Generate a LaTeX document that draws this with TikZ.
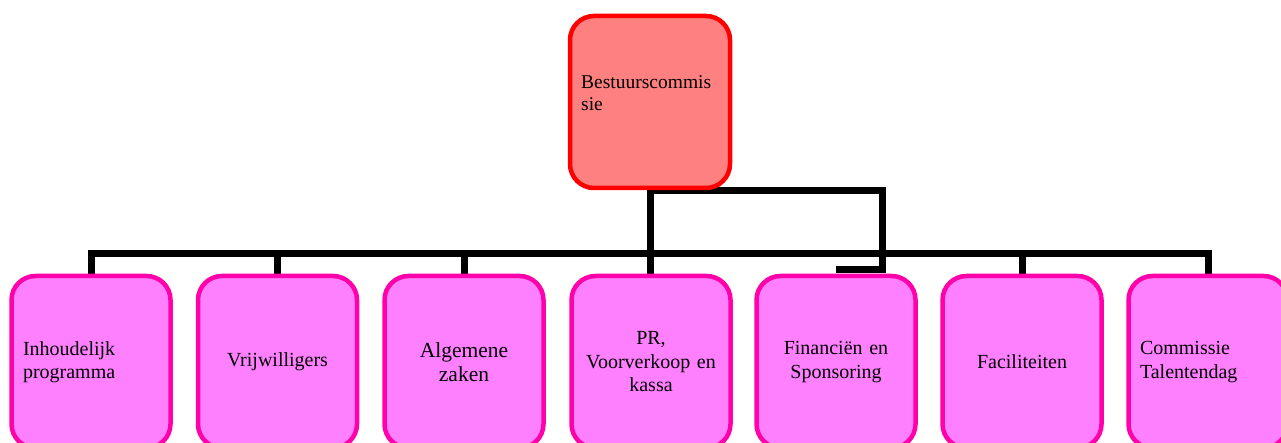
\documentclass[tikz,border=0pt]{standalone}
\usepackage{fontspec}
\setmainfont{Liberation Serif}
\usetikzlibrary{calc}
\pgfdeclarelayer{background}
\pgfsetlayers{background,main}
\definecolor{topfill}{RGB}{255,128,128}
\definecolor{topline}{RGB}{255,0,0}
\definecolor{subfill}{RGB}{255,128,255}
\definecolor{subline}{RGB}{255,0,170}
\tikzset{
  topbox/.style={draw=topline, fill=topfill, line width=4.5pt, rounded corners=24pt,
    minimum width=160pt, minimum height=172pt, inner sep=0pt},
  subbox/.style={draw=subline, fill=subfill, line width=4.5pt, rounded corners=24pt,
    minimum width=159pt, minimum height=172pt, inner sep=0pt, text width=138pt,
    align=center, font=\fontsize{20}{23.5}\selectfont},
  conn/.style={draw=black, line width=7pt},
  lbl/.style={inner sep=0pt, align=left, font=\fontsize{19.5}{22}\selectfont}
}
\begin{document}
\begin{tikzpicture}[x=1pt,y=1pt]
\useasboundingbox (0,0) rectangle (1281,-443);
\clip (0,0) rectangle (1281,-443);
\node[topbox] (top) at (650,-102) {};
\node[lbl, anchor=north west] (toptext) at (581,-75) {Bestuurscommis\\sie};
\node[subbox, align=left, text width=136pt] (b1) at (91,-362) {Inhoudelijk\\programma};
\node[subbox] (b2) at (277.5,-362) {Vrijwilligers};
\node[subbox, font=\fontsize{21.5}{24}\selectfont] (b3) at (464,-362) {Algemene\\zaken};
\node[subbox] (b4) at (651,-362) {PR,\\Voorverkoop en\\kassa};
\node[subbox] (b5) at (836,-362) {Financiën en\\Sponsoring};
\node[subbox] (b6) at (1022,-362) {Faciliteiten};
\node[subbox, align=left, text width=136pt] (b7) at (1208,-362) {Commissie\\Talentendag};
\coordinate (bus) at (0,-254);
\begin{pgfonlayer}{background}
\draw[conn] (b1.north) -- (b1.north |- bus) -- (b7.north |- bus) -- (b7.north);
\draw[conn] (b2.north) -- (b2.north |- bus);
\draw[conn] (b3.north) -- (b3.north |- bus);
\draw[conn] (b6.north) -- (b6.north |- bus);
\draw[conn] (top.south) -- (top.south |- b4.north);
\draw[conn] (top.south) -| ($(b5.north)+(46,4)$) -- ($(b5.north)+(0,4)$);
\end{pgfonlayer}
\end{tikzpicture}
\end{document}
